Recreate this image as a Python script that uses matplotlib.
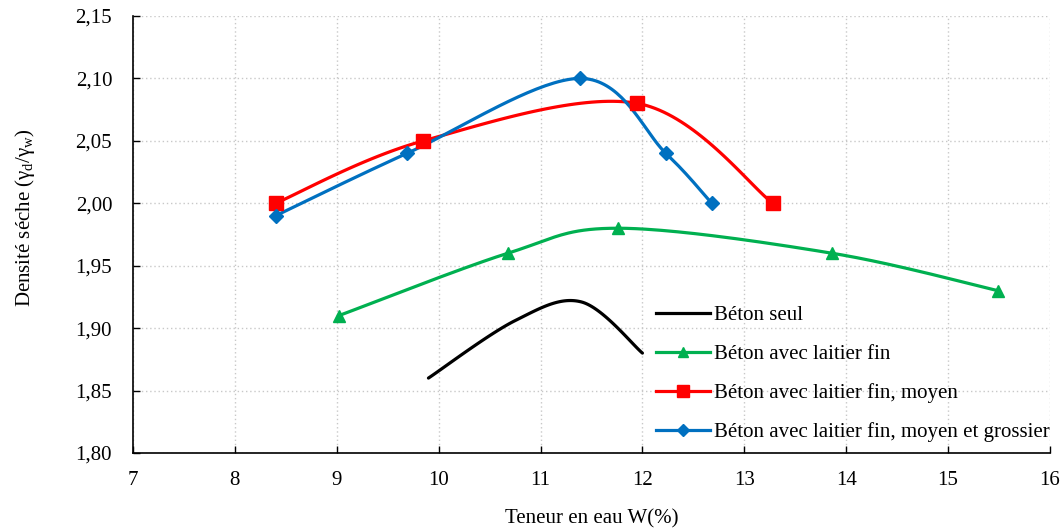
import numpy as np
import matplotlib
matplotlib.use("Agg")
import matplotlib.pyplot as plt
from matplotlib.ticker import FuncFormatter, MultipleLocator

plt.rcParams['font.family'] = ['Liberation Serif', 'DejaVu Serif']
plt.rcParams['mathtext.fontset'] = 'custom'
plt.rcParams['mathtext.rm'] = 'Liberation Serif'
plt.rcParams['mathtext.it'] = 'Liberation Serif:italic'

# Data
seul_x = [9.9, 10.75, 11.4, 12.0]
seul_y = [1.86, 1.906, 1.921, 1.88]
fin_x = [9.02, 10.68, 11.76, 13.86, 15.49]
fin_y = [1.91, 1.96, 1.98, 1.96, 1.93]
moyen_x = [8.40, 9.85, 11.95, 13.28]
moyen_y = [2.00, 2.05, 2.08, 2.00]
gros_x = [8.40, 9.69, 11.39, 12.23, 12.68]
gros_y = [1.99, 2.04, 2.10, 2.04, 2.00]

labels = ["Béton seul", "Béton avec laitier fin", "Béton avec laitier fin, moyen",
          "Béton avec laitier fin, moyen et grossier"]


def smooth(xs, ys, n=40):
    P = np.column_stack([xs, ys]).astype(float)
    out = []
    m = len(P)
    for i in range(m - 1):
        p0 = P[i - 1] if i > 0 else P[i]
        p1 = P[i]
        p2 = P[i + 1]
        p3 = P[i + 2] if i + 2 < m else P[i + 1]
        c1 = p1 + (p2 - p0) / 6.0
        c2 = p2 - (p3 - p1) / 6.0
        t = np.linspace(0, 1, n)[:, None]
        seg = ((1 - t) ** 3) * p1 + 3 * ((1 - t) ** 2) * t * c1 + 3 * (1 - t) * t ** 2 * c2 + t ** 3 * p2
        out.append(seg if i == 0 else seg[1:])
    s = np.vstack(out)
    return s[:, 0], s[:, 1]


fig = plt.figure(figsize=(10.62, 5.29), dpi=100)
ax = fig.add_axes([0.1252, 0.1437, 0.8635, 0.8261])

lw = 2.3
series = [
    (seul_x, seul_y, '#000000', None, 0),
    (fin_x, fin_y, '#00B050', '^', 9),
    (moyen_x, moyen_y, '#FF0000', 's', 9.5),
    (gros_x, gros_y, '#0070C0', 'D', 7),
]
handles = []
for (xs, ys, c, mk, ms), lab in zip(series, labels):
    sx, sy = smooth(xs, ys)
    ax.plot(sx, sy, color=c, lw=lw, solid_capstyle='round', zorder=3)
    if mk:
        ax.plot(xs, ys, linestyle='none', marker=mk, ms=ms, color=c, zorder=4)
    h, = ax.plot([], [], color=c, lw=lw, marker=mk, ms=(ms * 0.85 if mk else 0))
    handles.append(h)

ax.set_xlim(7, 16)
ax.set_ylim(1.80, 2.15)
ax.xaxis.set_major_locator(MultipleLocator(1))
ax.yaxis.set_major_locator(MultipleLocator(0.05))
ax.yaxis.set_major_formatter(FuncFormatter(lambda v, p: f"{v:.2f}".replace('.', ',')))
ax.xaxis.set_major_formatter(FuncFormatter(lambda v, p: f"{v:.0f}"))
ax.grid(True, color='#C8C8C8', linestyle=(0, (1, 2)), lw=1.0)
for s in ['top', 'right']:
    ax.spines[s].set_visible(False)
for s in ['left', 'bottom']:
    ax.spines[s].set_linewidth(1.2)
ax.tick_params(direction='in', length=5, width=1, labelsize=15)
ax.tick_params(axis='x', pad=13)
ax.tick_params(axis='y', pad=15)

ax.set_xlabel("Teneur en eau W(%)", fontsize=15, labelpad=14)
ax.set_ylabel(r"Densité séche ($\mathregular{\gamma_d/\gamma_w}$)", fontsize=15)
ax.yaxis.set_label_coords(-0.105, 0.538)

leg = ax.legend(handles, labels, loc='lower right', bbox_to_anchor=(1.0204, -0.018),
                frameon=False, fontsize=15, handlelength=2.6, labelspacing=0.92,
                handletextpad=0.2)

fig.savefig("out.png", dpi=100)
